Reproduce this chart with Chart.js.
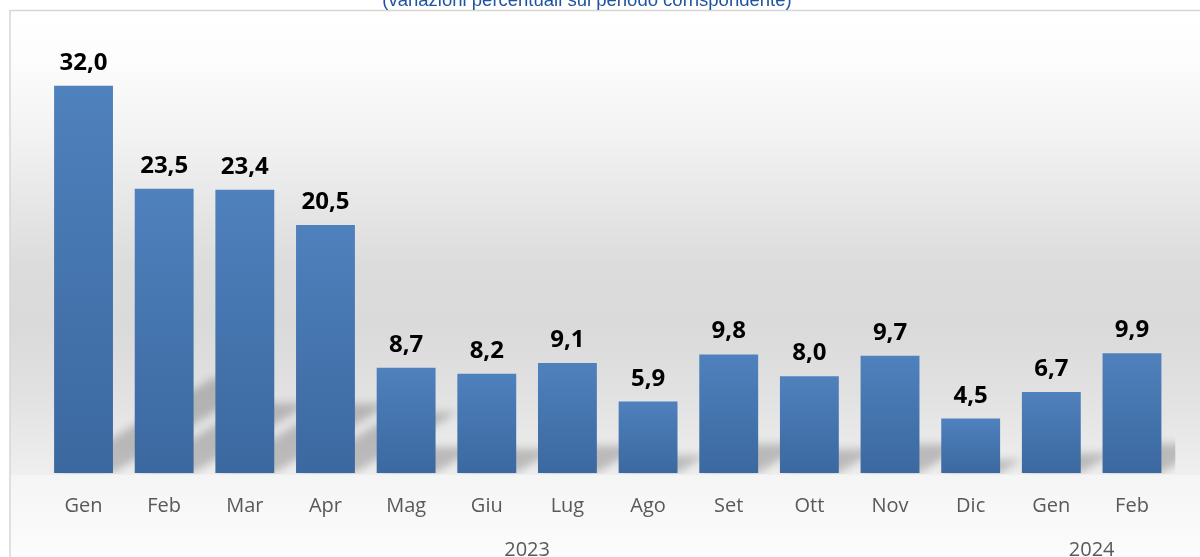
<!DOCTYPE html>
<html><head><meta charset="utf-8">
<style>html,body{margin:0;padding:0;background:#fff;overflow:hidden}#wrap{width:1200px;height:557px;position:relative}</style>
<script src="https://cdn.jsdelivr.net/npm/chart.js@4.4.1/dist/chart.umd.min.js"></script>
</head><body><div id="wrap"><canvas id="c" width="1200" height="557"></canvas></div>
<script>
const categories = ['Gen','Feb','Mar','Apr','Mag','Giu','Lug','Ago','Set','Ott','Nov','Dic','Gen','Feb'];
const values = [32.0,23.5,23.4,20.5,8.7,8.2,9.1,5.9,9.8,8.0,9.7,4.5,6.7,9.9];
const yearGroups = [{label:'2023', first:0, last:11},{label:'2024', first:12, last:13}];
const subtitle = '(variazioni percentuali sul periodo corrispondente)';

const bgPlugin = {
  id:'bg',
  beforeDraw(chart){
    const c = chart.ctx, W = chart.width, H = chart.height;
    c.save();
    c.fillStyle = '#ffffff'; c.fillRect(0,0,W,H);
    const g = c.createLinearGradient(0,10,0,475);
    g.addColorStop(0,'#ffffff');
    g.addColorStop(0.10,'#fdfdfd');
    g.addColorStop(0.25,'#f4f4f4');
    g.addColorStop(0.40,'#e8e8e8');
    g.addColorStop(0.55,'#dcdcdc');
    g.addColorStop(0.68,'#dadada');
    g.addColorStop(0.82,'#e1e1e1');
    g.addColorStop(1,'#efefef');
    c.fillStyle = g; c.fillRect(10,10,W-10,465);
    const g2 = c.createLinearGradient(0,475,0,H);
    g2.addColorStop(0,'#f5f5f5');
    g2.addColorStop(1,'#fcfcfc');
    c.fillStyle = g2; c.fillRect(10,475,W-10,H-475);
    c.strokeStyle = '#d6d6d6'; c.lineWidth = 1.5;
    c.beginPath(); c.moveTo(10,H); c.lineTo(10,10.5); c.lineTo(W,10.5); c.stroke();
    c.fillStyle = '#1f55a0';
    c.font = '18.5px "Liberation Sans", Arial, sans-serif';
    c.textAlign = 'center'; c.textBaseline = 'alphabetic';
    c.fillText(subtitle, 587, 5.5);
    c.restore();
  }
};

const shadowPlugin = {
  id:'barShadows',
  beforeDatasetsDraw(chart){
    const c = chart.ctx, area = chart.chartArea;
    const meta = chart.getDatasetMeta(0);
    c.save();
    c.beginPath(); c.rect(10, area.top, area.right + 3 - 10, area.bottom + 1 - area.top); c.clip();
    c.filter = 'blur(4px)';
    c.fillStyle = 'rgba(0,0,0,0.21)';
    meta.data.forEach(el => {
      const h = el.base - el.y;
      const x0 = el.x - el.width/2, x1 = el.x + el.width/2;
      const dx = 0.41*h, dy = 0.245*h;
      c.beginPath();
      c.moveTo(x0, el.base); c.lineTo(x1, el.base);
      c.lineTo(x1+dx, el.base-dy); c.lineTo(x0+dx, el.base-dy);
      c.closePath(); c.fill();
    });
    c.restore();
  }
};

const labelPlugin = {
  id:'valueLabels',
  afterDatasetsDraw(chart){
    const c = chart.ctx;
    const meta = chart.getDatasetMeta(0);
    c.save();
    c.fillStyle = '#000000';
    c.font = 'bold 24px "Open Sans", sans-serif';
    c.textAlign = 'center'; c.textBaseline = 'alphabetic';
    meta.data.forEach((el,i) => {
      c.fillText(values[i].toFixed(1).replace('.', ','), el.x, el.y - 16);
    });
    c.restore();
  }
};

const yearPlugin = {
  id:'years',
  afterDraw(chart){
    const c = chart.ctx, xs = chart.scales.x;
    c.save();
    c.fillStyle = '#595959';
    c.font = '20px "Open Sans", sans-serif';
    c.textAlign = 'center'; c.textBaseline = 'alphabetic';
    yearGroups.forEach(g => {
      const x = (xs.getPixelForValue(g.first) + xs.getPixelForValue(g.last)) / 2;
      c.fillText(g.label, x, 556);
    });
    c.restore();
  }
};

new Chart(document.getElementById('c'), {
  type:'bar',
  data:{
    labels: categories,
    datasets:[{
      data: values,
      barPercentage: 0.73,
      categoryPercentage: 1,
      borderWidth: 0,
      backgroundColor: (ctx) => {
        const chart = ctx.chart;
        if (!chart.chartArea || ctx.dataIndex === undefined) return '#4676b0';
        const ys = chart.scales.y;
        const top = ys.getPixelForValue(values[ctx.dataIndex]);
        const bot = ys.getPixelForValue(0);
        const g = chart.ctx.createLinearGradient(0, top, 0, bot);
        g.addColorStop(0, '#4f81bd');
        g.addColorStop(1, '#3b689f');
        return g;
      }
    }]
  },
  options:{
    responsive:false,
    animation:false,
    devicePixelRatio:1,
    layout:{padding:{left:43.2, right:27.7, top:37.4, bottom:0}},
    plugins:{legend:{display:false}, tooltip:{enabled:false}, title:{display:false}},
    scales:{
      x:{
        grid:{display:false, drawTicks:false},
        border:{display:false},
        ticks:{color:'#595959', font:{family:'"Open Sans", sans-serif', size:20}, padding:21, maxRotation:0, autoSkip:false},
        afterFit(s){ s.height = 84; }
      },
      y:{display:false, min:0, max:36}
    }
  },
  plugins:[bgPlugin, shadowPlugin, labelPlugin, yearPlugin]
});
</script></body></html>
